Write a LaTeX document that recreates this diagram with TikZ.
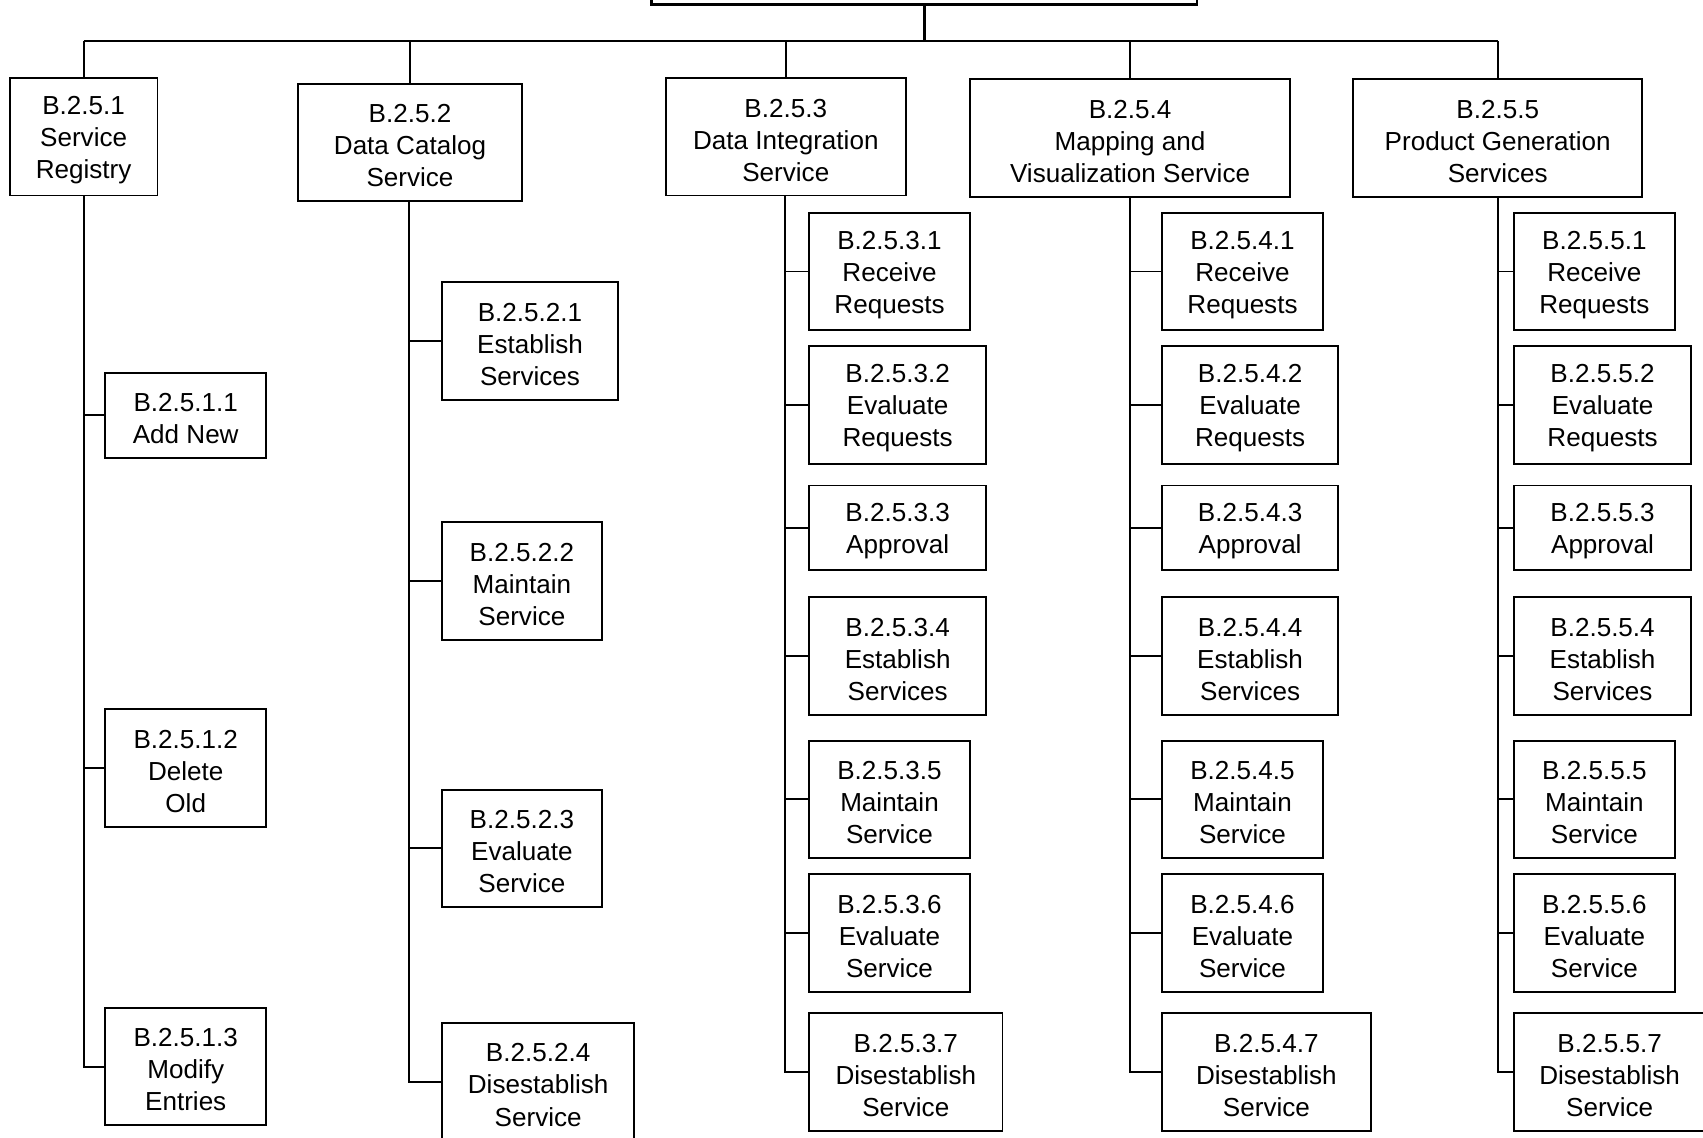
\documentclass[tikz,border=0pt]{standalone}
\usepackage{fontspec}
\setmainfont{Liberation Sans}
\tikzset{
  box/.style={draw, line width=0.9pt, inner sep=0pt},
  lbl/.style={align=center, inner sep=0pt, font=\fontsize{12}{14.75}\selectfont, yshift=-1.5pt},
  link/.style={line width=0.9pt}
}
\newcommand\bx[6]{\node[box,minimum width={(#3-#2)*0.5pt},minimum height={(#5-#4)*0.5pt},label={[lbl]center:{#6}}] (#1) at ({(#2+#3)/2},{(#4+#5)/2}) {};}
\begin{document}
\begin{tikzpicture}[x=0.5pt,y=-0.5pt]
\clip (0,0) rectangle (1568,1047);
% root
\node[draw, line width=1.2pt, inner sep=0pt, minimum width=251pt, minimum height=22pt] (root) at (851,-18) {};
% level 1
\bx{a1}{9}{145}{72}{180}{B.2.5.1\\Service\\Registry}
\bx{a2}{274}{481}{77}{185}{B.2.5.2\\Data Catalog\\Service}
\bx{a3}{613}{834}{72}{180}{B.2.5.3\\Data Integration\\Service}
\bx{a4}{893}{1188}{73}{181}{B.2.5.4\\Mapping and\\Visualization Service}
\bx{a5}{1246}{1512}{73}{181}{B.2.5.5\\Product Generation\\Services}
% bus
\coordinate (busL) at (77,38);
\coordinate (busR) at (1379,38);
\draw[link] (busL) -- (busR);
\draw[line width=1.3pt] (root.south) -- (root.south |- busL);
\foreach \n in {a1,a2,a3,a4,a5} {\draw[link] (\n.north) -- (\n.north |- busL);}
% column 1
\bx{b11}{97}{245}{343}{422}{B.2.5.1.1\\Add New}
\bx{b12}{97}{245}{653}{761}{B.2.5.1.2\\Delete\\Old}
\bx{b13}{97}{245}{928}{1036}{B.2.5.1.3\\Modify\\Entries}
% column 2
\bx{b21}{407}{569}{260}{368}{B.2.5.2.1\\Establish\\Services}
\bx{b22}{407}{554}{481}{589}{B.2.5.2.2\\Maintain\\Service}
\bx{b23}{407}{554}{727}{835}{B.2.5.2.3\\Evaluate\\Service}
\bx{b24}{407}{584}{942}{1050}{B.2.5.2.4\\Disestablish\\Service}
% column 3
\bx{b31}{745}{893}{196}{304}{B.2.5.3.1\\Receive\\Requests}
\bx{b32}{745}{908}{319}{427}{B.2.5.3.2\\Evaluate\\Requests}
\bx{b33}{745}{908}{447}{525}{B.2.5.3.3\\Approval}
\bx{b34}{745}{908}{550}{658}{B.2.5.3.4\\Establish\\Services}
\bx{b35}{745}{893}{682}{790}{B.2.5.3.5\\Maintain\\Service}
\bx{b36}{745}{893}{805}{913}{B.2.5.3.6\\Evaluate\\Service}
\bx{b37}{745}{923}{933}{1041}{B.2.5.3.7\\Disestablish\\Service}
% column 4
\bx{b41}{1070}{1218}{196}{304}{B.2.5.4.1\\Receive\\Requests}
\bx{b42}{1070}{1232}{319}{427}{B.2.5.4.2\\Evaluate\\Requests}
\bx{b43}{1070}{1232}{447}{525}{B.2.5.4.3\\Approval}
\bx{b44}{1070}{1232}{550}{658}{B.2.5.4.4\\Establish\\Services}
\bx{b45}{1070}{1218}{682}{790}{B.2.5.4.5\\Maintain\\Service}
\bx{b46}{1070}{1218}{805}{913}{B.2.5.4.6\\Evaluate\\Service}
\bx{b47}{1070}{1262}{933}{1041}{B.2.5.4.7\\Disestablish\\Service}
% column 5
\bx{b51}{1394}{1542}{196}{304}{B.2.5.5.1\\Receive\\Requests}
\bx{b52}{1394}{1557}{319}{427}{B.2.5.5.2\\Evaluate\\Requests}
\bx{b53}{1394}{1557}{447}{525}{B.2.5.5.3\\Approval}
\bx{b54}{1394}{1557}{550}{658}{B.2.5.5.4\\Establish\\Services}
\bx{b55}{1394}{1542}{682}{790}{B.2.5.5.5\\Maintain\\Service}
\bx{b56}{1394}{1542}{805}{913}{B.2.5.5.6\\Evaluate\\Service}
\bx{b57}{1394}{1570}{933}{1041}{B.2.5.5.7\\Disestablish\\Service}
% connectors
\foreach \c in {b11,b12,b13} {\draw[link] (a1.south) |- (\c.west);}
\foreach \c in {b21,b22,b23,b24} {\draw[link] (a2.south -| busL) ++(300,0) |- (\c.west);}
\foreach \c in {b31,b32,b33,b34,b35,b36,b37} {\draw[link] (a3.south) ++(-0.5,0) |- (\c.west);}
\foreach \c in {b41,b42,b43,b44,b45,b46,b47} {\draw[link] (a4.south) ++(-0.5,0) |- (\c.west);}
\foreach \c in {b51,b52,b53,b54,b55,b56,b57} {\draw[link] (a5.south) |- (\c.west);}
\end{tikzpicture}
\end{document}
